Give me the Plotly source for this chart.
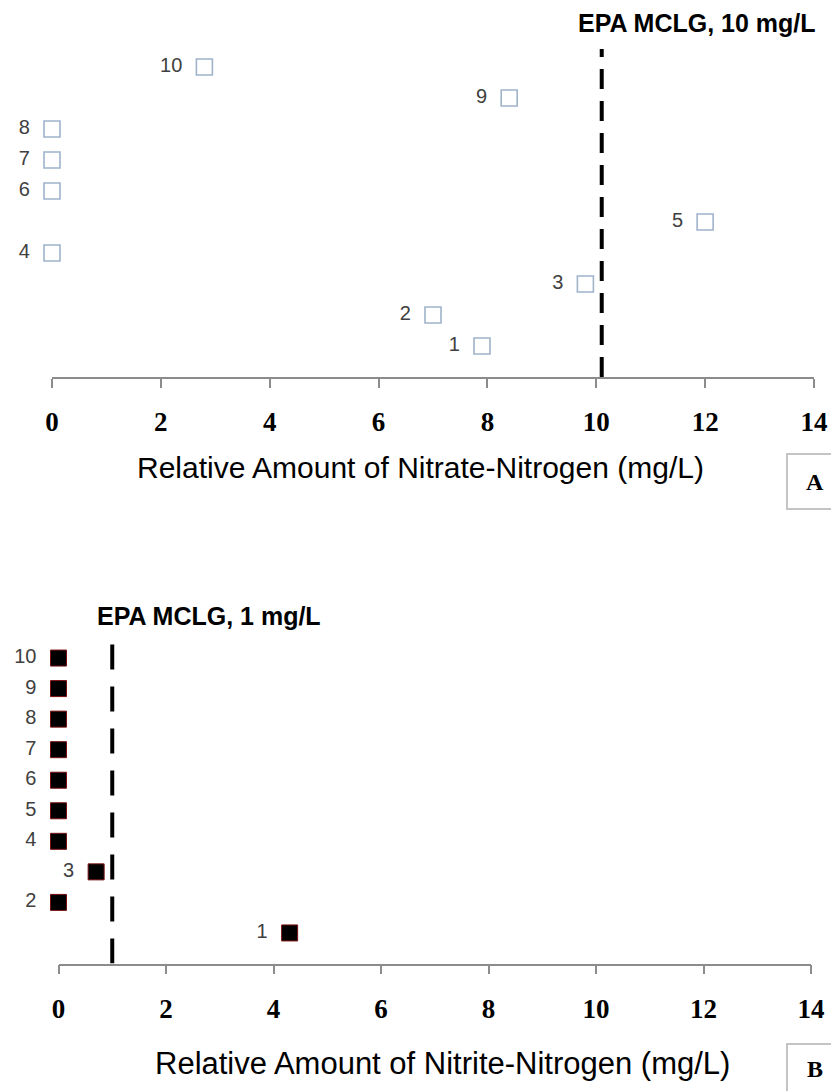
import plotly.graph_objects as go

# ---- data ----
samples = [1, 2, 3, 4, 5, 6, 7, 8, 9, 10]
sample_labels = [str(s) for s in samples]
nitrate = [7.9, 7.0, 9.8, 0.0, 12.0, 0.0, 0.0, 0.0, 8.4, 2.8]
nitrite = [4.3, 0.0, 0.7, 0.0, 0.0, 0.0, 0.0, 0.0, 0.0, 0.0]
nitrate_mclg = 10.1   # as drawn
nitrite_mclg = 1.0
nitrate_line_top = 10.58
nitrite_line_top = 10.47
x_ticks = [0, 2, 4, 6, 8, 10, 12, 14]

W, H = 831, 1091


def px(x):
    return x / W


def py(y):
    return 1 - y / H


fig = go.Figure()

label_font = dict(family="Liberation Sans", size=20, color="#404040")
gap = "\u00a0\u00a0"

# Panel A markers
fig.add_trace(go.Scatter(
    x=nitrate, y=samples, mode="markers+text", text=sample_labels,
    texttemplate="%{text}" + gap,
    textposition="middle left", textfont=label_font,
    marker=dict(symbol="square-open", size=16, color="#9fb3cb",
                line=dict(width=1.6, color="#9fb3cb")),
    xaxis="x", yaxis="y", showlegend=False, cliponaxis=False,
))
fig.add_trace(go.Scatter(
    x=[nitrate_mclg, nitrate_mclg], y=[0, nitrate_line_top], mode="lines",
    line=dict(color="black", width=4, dash="20px,12px"),
    xaxis="x", yaxis="y", showlegend=False,
))

# Panel B markers
fig.add_trace(go.Scatter(
    x=nitrite, y=samples, mode="markers+text", text=sample_labels,
    texttemplate="%{text}" + gap,
    textposition="middle left", textfont=label_font,
    marker=dict(symbol="square", size=16, color="black",
                line=dict(width=1, color="#7a1010")),
    xaxis="x2", yaxis="y2", showlegend=False, cliponaxis=False,
))
fig.add_trace(go.Scatter(
    x=[nitrite_mclg, nitrite_mclg], y=[0, nitrite_line_top], mode="lines",
    line=dict(color="black", width=4, dash="25px,17px"),
    xaxis="x2", yaxis="y2", showlegend=False,
))

tickfont = dict(family="Liberation Serif", size=27, color="black", weight="bold")
axis_common = dict(
    tickmode="array", tickvals=x_ticks, ticktext=[str(t) for t in x_ticks],
    range=[0, 14], showline=True, linecolor="#8c8c8c", linewidth=1.5,
    ticks="outside", ticklen=9, tickcolor="#8c8c8c", tickwidth=1.5,
    showgrid=False, zeroline=False, tickfont=tickfont, ticklabelstandoff=11,
    automargin=False,
)

fig.update_layout(
    width=W, height=H, autosize=False,
    margin=dict(l=0, r=0, t=0, b=0, pad=0),
    paper_bgcolor="white", plot_bgcolor="white",
    xaxis=dict(domain=[px(52), px(814)], anchor="y", **axis_common),
    yaxis=dict(domain=[py(377), py(36)], range=[0, 11], visible=False),
    xaxis2=dict(domain=[px(58.5), px(811)], anchor="y2", **axis_common),
    yaxis2=dict(domain=[py(963.5), py(627.5)], range=[0, 11], visible=False),
)

title_font = dict(family="Liberation Sans", size=30, color="black")
ann = [
    dict(text="EPA MCLG, 10 mg/L", x=px(697), y=py(23),
         font=dict(family="Liberation Sans", size=25, color="black", weight="bold")),
    dict(text="EPA MCLG, 1 mg/L", x=px(209), y=py(616),
         font=dict(family="Liberation Sans", size=25, color="black", weight="bold")),
    dict(text="Relative Amount of Nitrate-Nitrogen (mg/L)", x=px(421), y=py(467),
         font=title_font),
    dict(text="Relative Amount of Nitrite-Nitrogen (mg/L)", x=px(442), y=py(1063),
         font=dict(family="Liberation Sans", size=31, color="black")),
    dict(text="A", x=px(815), y=py(482),
         font=dict(family="Liberation Serif", size=24, color="black", weight="bold")),
    dict(text="B", x=px(815), y=py(1069),
         font=dict(family="Liberation Serif", size=24, color="black", weight="bold")),
]
for a in ann:
    a.update(xref="paper", yref="paper", xanchor="center", yanchor="middle",
             showarrow=False)
fig.update_layout(annotations=ann)

fig.update_layout(shapes=[
    dict(type="rect", xref="paper", yref="paper", x0=px(787), x1=px(845),
         y0=py(509), y1=py(454), line=dict(color="#c4c4c4", width=2)),
    dict(type="rect", xref="paper", yref="paper", x0=px(787), x1=px(845),
         y0=py(1100), y1=py(1044), line=dict(color="#c4c4c4", width=2)),
])

post = ("document.body.style.margin='0';"
        "document.body.style.overflow='hidden';"
        "var gd=document.getElementById('{plot_id}');"
        "Plotly.relayout(gd,{width:831,height:1091});")

fig.write_html("out.html", config={"responsive": False, "displayModeBar": False},
               post_script=post)
